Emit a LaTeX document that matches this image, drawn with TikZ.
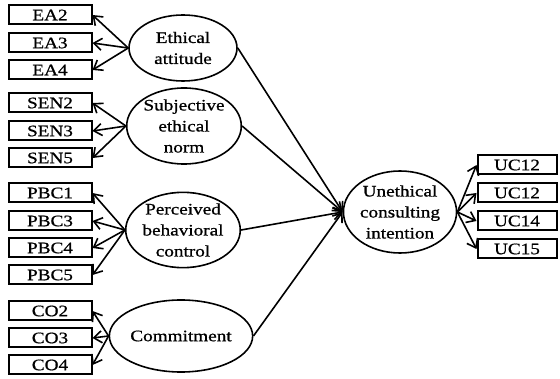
\documentclass[tikz,border=0pt]{standalone}
\usepackage{fontspec}
\setmainfont{Liberation Serif}[FakeStretch=1.2,FakeBold=0.8]
\usetikzlibrary{shapes.geometric,arrows.meta}
\begin{document}
\begin{tikzpicture}[x=1pt,y=-1pt,
  every node/.style={font=\fontsize{16}{21}\selectfont},
  ind/.style={draw,line width=2pt,rectangle,minimum width=83pt,minimum height=19pt,inner sep=0pt},
  indr/.style={ind,minimum width=79pt},
  lat/.style={draw,line width=1.6pt,ellipse,inner sep=0pt,align=center},
  arr/.style={line width=1.6pt,-{Straight Barb[length=8pt,width=12pt,line width=1.6pt]}}]
\useasboundingbox (0,0) rectangle (560,379);
% indicators left
\node[ind] (ea2) at (50,15) {EA2};
\node[ind] (ea3) at (50,43) {EA3};
\node[ind] (ea4) at (50,70) {EA4};
\node[ind] (sen2) at (50,103) {SEN2};
\node[ind] (sen3) at (50,131) {SEN3};
\node[ind] (sen5) at (50,158) {SEN5};
\node[ind] (pbc1) at (50,193) {PBC1};
\node[ind] (pbc3) at (50,221) {PBC3};
\node[ind] (pbc4) at (50,248) {PBC4};
\node[ind] (pbc5) at (50,275) {PBC5};
\node[ind] (co2) at (50,311) {CO2};
\node[ind] (co3) at (50,338) {CO3};
\node[ind] (co4) at (50,365) {CO4};
% latent
\node[lat,minimum width=108pt,minimum height=66pt] (ea) at (183,48) {Ethical\\attitude};
\node[lat,minimum width=112pt,minimum height=76pt] (sen) at (184,126) {Subjective\\ethical\\norm};
\node[lat,minimum width=110pt,minimum height=72pt] (pbc) at (183,230) {Perceived\\behavioral\\control};
\node[lat,minimum width=106pt,minimum height=72pt] (co) at (181,336) {Commitment};
\node[lat,minimum width=106pt,minimum height=82pt] (uci) at (400,212) {Unethical\\consulting\\intention};
% indicators right
\node[indr] (uc1) at (517,165) {UC12};
\node[indr] (uc2) at (517,193) {UC12};
\node[indr] (uc3) at (517,221) {UC14};
\node[indr] (uc4) at (517,249) {UC15};
% measurement arrows
\foreach \s/\t in {ea/ea2,ea/ea3,ea/ea4,sen/sen2,sen/sen3,sen/sen5,pbc/pbc1,pbc/pbc3,pbc/pbc4,pbc/pbc5,co/co2,co/co3,co/co4}
  \draw[arr] (\s.west) -- (\t.east);
\foreach \t in {uc1,uc2,uc3,uc4}
  \draw[arr] (uci.east) -- (\t.west);
% structural arrows
\foreach \s in {ea,sen,pbc,co}
  \draw[arr] (\s.east) -- (uci.west);
\end{tikzpicture}
\end{document}
